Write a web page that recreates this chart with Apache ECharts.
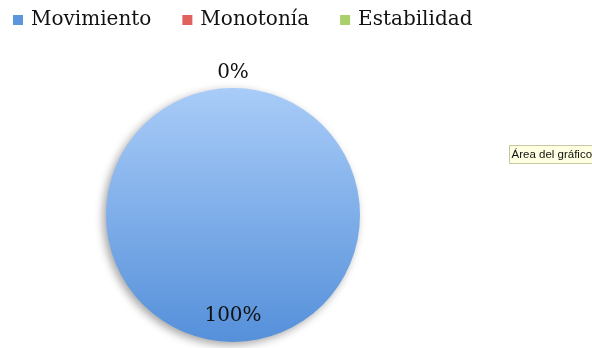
<!DOCTYPE html>
<html>
<head>
<meta charset="utf-8">
<script src="https://cdn.jsdelivr.net/npm/echarts@6/dist/echarts.min.js"></script>
<style>
  html, body { margin: 0; padding: 0; background: #fff; }
  #chart { width: 592px; height: 348px; }
</style>
</head>
<body>
<div id="chart"></div>
<script>
// Distribution of responses
const categories = ['Movimiento', 'Monotonía', 'Estabilidad'];
const values = [100, 0, 0];
const legendColors = ['#5b95dc', '#e0625f', '#a9d06a'];

const serif = '"DejaVu Serif", "Liberation Serif", serif';

const blueFill = new echarts.graphic.LinearGradient(0, 0, 0, 1, [
  { offset: 0, color: '#a9ccf8' },
  { offset: 1, color: '#5590da' }
]);

const pieData = categories.map((name, i) => ({
  name,
  value: values[i],
  itemStyle: { color: i === 0 ? blueFill : legendColors[i] },
  label: i === 0
    ? { position: 'inside', offset: [0, 34] }
    : { show: i === 1, position: 'outside' }
}));

const chart = echarts.init(document.getElementById('chart'), null, { renderer: 'canvas' });
chart.setOption({
  animation: false,
  legend: {
    left: 8,
    top: 5,
    itemWidth: 10,
    itemHeight: 10,
    itemGap: 31,
    icon: 'rect',
    textStyle: { fontFamily: serif, fontSize: 20, color: '#111', padding: [0, 0, 0, 3] },
    data: categories.map((name, i) => ({ name, itemStyle: { color: legendColors[i] } }))
  },
  series: [{
    type: 'pie',
    center: [233, 215],
    radius: 127,
    startAngle: 90,
    clockwise: true,
    avoidLabelOverlap: false,
    stillShowZeroSum: true,
    itemStyle: {
      shadowBlur: 8,
      shadowColor: 'rgba(0,0,0,0.35)',
      shadowOffsetX: -3,
      shadowOffsetY: 3
    },
    label: {
      formatter: p => Math.round(p.percent) + '%',
      fontFamily: serif,
      fontSize: 20,
      color: '#111'
    },
    labelLine: { show: false, length: 2, length2: 0 },
    labelLayout: p => p.dataIndex === 1 ? { x: 233, y: 73, align: 'center', verticalAlign: 'middle' } : {},
    data: pieData
  }],
  graphic: [{
    type: 'group',
    left: 509,
    top: 145,
    children: [
      { type: 'rect', shape: { x: 0, y: 0, width: 90, height: 18 }, style: { fill: '#ffffe1', stroke: '#c8c8a0', lineWidth: 1 } },
      { type: 'text', style: { x: 2, y: 9, text: 'Área del gráfico', font: '11.5px "Liberation Sans", Arial, sans-serif', fill: '#111', verticalAlign: 'middle' } }
    ]
  }]
});
</script>
</body>
</html>
